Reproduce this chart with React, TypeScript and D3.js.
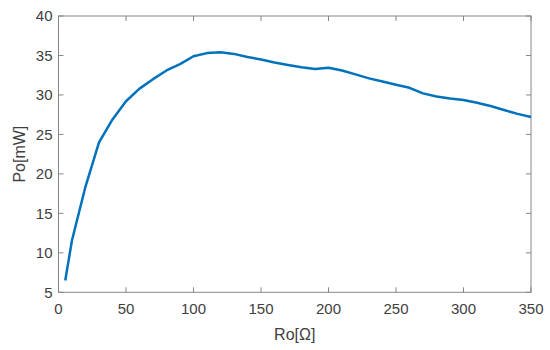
import React, { useEffect, useRef } from 'react';
import * as d3 from 'd3';

// Output power vs. load resistance

const ro = [5, 10, 20, 30, 40, 50, 60, 70, 80, 90, 100, 110, 120, 130, 140, 150, 160, 170, 180, 190, 200,
  210, 220, 230, 240, 250, 260, 270, 280, 290, 300, 310, 320, 330, 340, 350];
const po = [6.5, 11.6, 18.4, 24.0, 26.9, 29.2, 30.8, 32.0, 33.1, 33.9, 34.9, 35.3, 35.4, 35.2, 34.8, 34.5, 34.1, 33.8, 33.5, 33.3, 33.45,
  33.1, 32.6, 32.1, 31.7, 31.3, 30.9, 30.2, 29.8, 29.55, 29.35, 29.0, 28.6, 28.1, 27.6, 27.2];
const xTicks = [0, 50, 100, 150, 200, 250, 300, 350];
const yTicks = [5, 10, 15, 20, 25, 30, 35, 40];

export default function App() {
  const ref = useRef<SVGSVGElement>(null);

  useEffect(() => {
    const svg = d3.select(ref.current);
    svg.selectAll('*').remove();

    const left = 58.5, right = 531, top = 16, bottom = 292.3;
    const x = d3.scaleLinear().domain([0, 350]).range([left, right]);
    const y = d3.scaleLinear().domain([5, 40]).range([bottom, top]);
    const axisColor = '#868686';
    const textColor = '#404040';
    const font = 'Liberation Sans, Arial, sans-serif';

    // box
    svg.append('rect')
      .attr('x', left).attr('y', top)
      .attr('width', right - left).attr('height', bottom - top)
      .attr('fill', 'none').attr('stroke', axisColor).attr('stroke-width', 1);

    // x ticks (bottom + top, inward)
    const tk = 5;
    xTicks.forEach(t => {
      svg.append('line').attr('x1', x(t)).attr('x2', x(t)).attr('y1', bottom).attr('y2', bottom - tk)
        .attr('stroke', axisColor);
      svg.append('line').attr('x1', x(t)).attr('x2', x(t)).attr('y1', top).attr('y2', top + tk)
        .attr('stroke', axisColor);
      svg.append('text').attr('x', x(t)).attr('y', bottom + 22)
        .attr('text-anchor', 'middle').attr('font-family', font).attr('font-size', 15)
        .attr('fill', textColor).text(t);
    });

    yTicks.forEach(t => {
      svg.append('line').attr('x1', left).attr('x2', left + tk).attr('y1', y(t)).attr('y2', y(t))
        .attr('stroke', axisColor);
      svg.append('line').attr('x1', right).attr('x2', right - tk).attr('y1', y(t)).attr('y2', y(t))
        .attr('stroke', axisColor);
      svg.append('text').attr('x', left - 6).attr('y', y(t)).attr('dy', '0.35em')
        .attr('text-anchor', 'end').attr('font-family', font).attr('font-size', 15)
        .attr('fill', textColor).text(t);
    });

    const line = d3.line<number>()
      .x((d, i) => x(ro[i]))
      .y(d => y(d));

    svg.append('path')
      .datum(po)
      .attr('d', line)
      .attr('fill', 'none')
      .attr('stroke', '#0072BD')
      .attr('stroke-width', 2.5)
      .attr('stroke-linejoin', 'round');

    // axis labels
    svg.append('text').attr('x', (left + right) / 2).attr('y', 340)
      .attr('text-anchor', 'middle').attr('font-family', font).attr('font-size', 16)
      .attr('fill', textColor).text('Ro[Ω]');

    svg.append('text')
      .attr('transform', `translate(25, ${(top + bottom) / 2}) rotate(-90)`)
      .attr('text-anchor', 'middle').attr('font-family', font).attr('font-size', 16)
      .attr('fill', textColor).text('Po[mW]');
  }, []);

  return (
    <svg ref={ref} width={550} height={350}
      style={{ position: 'absolute', left: 0, top: 0, background: '#fff' }} />
  );
}
